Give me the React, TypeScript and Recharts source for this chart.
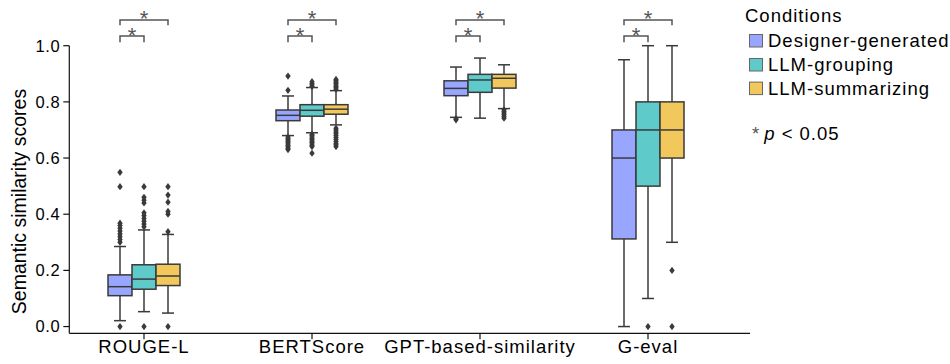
import React from 'react';
import { ComposedChart, Bar, XAxis, YAxis, Legend } from 'recharts';

if (typeof document !== 'undefined') {
  document.body.style.margin = '0';
}

const FONT = '"Liberation Sans", Arial, Helvetica, sans-serif';
const INK = '#3a3a3a';
const ANNOT = '#555555';

const categories = ['ROUGE-L', 'BERTScore', 'GPT-based-similarity', 'G-eval'];
const conditions = ['Designer-generated', 'LLM-grouping', 'LLM-summarizing'];
const conditionKeys = ['designer', 'grouping', 'summarizing'];
const conditionColors = ['#99a6ff', '#5fcaca', '#f2c75c'];
const yTicks = [0, 0.2, 0.4, 0.6, 0.8, 1.0];
const yDomain: [number, number] = [-0.024, 1.0];

// [lower whisker, Q1, median, Q3, upper whisker] per category
const designerStats = [
  [0.021, 0.110, 0.142, 0.184, 0.285],
  [0.680, 0.733, 0.752, 0.771, 0.821],
  [0.745, 0.822, 0.848, 0.875, 0.924],
  [0.0, 0.312, 0.6, 0.7, 0.95],
];
const groupingStats = [
  [0.053, 0.133, 0.169, 0.220, 0.344],
  [0.690, 0.749, 0.770, 0.790, 0.851],
  [0.742, 0.834, 0.878, 0.898, 0.956],
  [0.1, 0.5, 0.7, 0.8, 1.0],
];
const summarizingStats = [
  [0.048, 0.146, 0.180, 0.222, 0.328],
  [0.718, 0.756, 0.774, 0.790, 0.840],
  [0.776, 0.849, 0.884, 0.898, 0.932],
  [0.3, 0.6, 0.7, 0.8, 1.0],
];

const designerOutliers = [
  [0, 0.30, 0.31, 0.32, 0.33, 0.34, 0.35, 0.36, 0.368, 0.498, 0.549],
  [0.63, 0.635, 0.64, 0.645, 0.65, 0.655, 0.66, 0.665, 0.67, 0.675, 0.841, 0.892],
  [0.736, 0.74],
  [],
];
const groupingOutliers = [
  [0, 0.355, 0.365, 0.375, 0.385, 0.395, 0.405, 0.44, 0.45, 0.46, 0.498],
  [0.617, 0.641, 0.645, 0.65, 0.655, 0.66, 0.665, 0.67, 0.675, 0.68, 0.685, 0.855, 0.86, 0.865, 0.872],
  [],
  [0],
];
const summarizingOutliers = [
  [0, 0.338, 0.40, 0.41, 0.443, 0.468, 0.498],
  [0.641, 0.647, 0.653, 0.66, 0.667, 0.673, 0.68, 0.687, 0.693, 0.70, 0.706, 0.845, 0.85, 0.855, 0.86, 0.865, 0.87, 0.875, 0.88],
  [0.742, 0.748, 0.754, 0.76, 0.766, 0.772],
  [0, 0.2],
];

// significance: [designer vs grouping, designer vs summarizing]
const significant = [
  [true, true],
  [true, true],
  [true, true],
  [true, true],
];
// bracket levels in data units (above the top of the axis)
const nearBracket = { line: 1.0345, tip: 1.012, star: 1.056 };
const farBracket = { line: 1.0915, tip: 1.0726, star: 1.114 };

const statsByCondition = [designerStats, groupingStats, summarizingStats];
const outliersByCondition = [designerOutliers, groupingOutliers, summarizingOutliers];

const data = categories.map((category, i) => {
  const row: any = { category, idx: i };
  conditionKeys.forEach((k, c) => {
    const all = [...statsByCondition[c][i], ...outliersByCondition[c][i]];
    row[k] = [Math.min(...all), Math.max(...all)];
  });
  return row;
});

const STAR_FS = 22;
const Star = ({ x, y }: { x: number; y: number }) => (
  <text x={x} y={y + 0.575 * STAR_FS} textAnchor="middle" fontSize={STAR_FS} fontFamily={FONT} fill={ANNOT}>
    *
  </text>
);

const makeBoxShape = (c: number) => (props: any) => {
  const { x, y, width, height, payload, fill } = props;
  if (!payload || height == null) return <g />;
  const i = payload.idx;
  const [lo, hi] = payload[conditionKeys[c]];
  const py = (v: number) => y + ((hi - v) / (hi - lo)) * height;
  const [wl, q1, med, q3, wh] = statsByCondition[c][i];
  const cx = x + width / 2;
  const cap = width / 4;
  const outs = outliersByCondition[c][i];
  const sw = 1.5;
  const parts: any[] = [];
  parts.push(<line key="wu" x1={cx} x2={cx} y1={py(q3)} y2={py(wh)} stroke={INK} strokeWidth={sw} />);
  parts.push(<line key="wl" x1={cx} x2={cx} y1={py(q1)} y2={py(wl)} stroke={INK} strokeWidth={sw} />);
  parts.push(<line key="cu" x1={cx - cap} x2={cx + cap} y1={py(wh)} y2={py(wh)} stroke={INK} strokeWidth={sw} />);
  parts.push(<line key="cl" x1={cx - cap} x2={cx + cap} y1={py(wl)} y2={py(wl)} stroke={INK} strokeWidth={sw} />);
  parts.push(
    <rect key="box" x={x} y={py(q3)} width={width} height={py(q1) - py(q3)} fill={fill} stroke={INK} strokeWidth={sw} />
  );
  parts.push(<line key="med" x1={x} x2={x + width} y1={py(med)} y2={py(med)} stroke={INK} strokeWidth={sw} />);
  outs.forEach((v, k) => {
    const oy = py(v);
    parts.push(
      <path key={'o' + k} d={`M${cx},${oy - 3.6} L${cx + 2.7},${oy} L${cx},${oy + 3.6} L${cx - 2.7},${oy} Z`} fill={INK} />
    );
  });
  if (c === 0) {
    const x1 = cx;
    const x2 = cx + width;
    const x3 = cx + 2 * width;
    const [sg, ss] = significant[i];
    if (sg) {
      const ly = py(nearBracket.line);
      const ty = py(nearBracket.tip);
      parts.push(
        <path key="bn" d={`M${x1},${ty} L${x1},${ly} L${x2},${ly} L${x2},${ty}`} fill="none" stroke={ANNOT} strokeWidth={1.5} />
      );
      parts.push(<Star key="sn" x={(x1 + x2) / 2} y={py(nearBracket.star)} />);
    }
    if (ss) {
      const ly = py(farBracket.line);
      const ty = py(farBracket.tip);
      parts.push(
        <path key="bf" d={`M${x1},${ty} L${x1},${ly} L${x3},${ly} L${x3},${ty}`} fill="none" stroke={ANNOT} strokeWidth={1.5} />
      );
      parts.push(<Star key="sf" x={(x1 + x3) / 2} y={py(farBracket.star)} />);
    }
  }
  return <g>{parts}</g>;
};

const renderLegend = (props: any) => {
  const payload = props.payload || [];
  const rowBase = [47, 71, 94.6];
  return (
    <svg width={220} height={160} style={{ display: 'block' }}>
      <text x={15} y={21.7} fontSize={18.5} fontFamily={FONT} fill="#000" letterSpacing={1}>
        Conditions
      </text>
      {payload.map((entry: any, k: number) => (
        <g key={k}>
          <rect x={19.5} y={rowBase[k] - 12.5} width={13} height={12.5} fill={entry.color} stroke="#666" strokeWidth={1} />
          <text x={38} y={rowBase[k]} fontSize={18.5} fontFamily={FONT} fill="#000" letterSpacing={1}>
            {entry.value}
          </text>
        </g>
      ))}
      <text x={22} y={140} fontSize={18.5} fontFamily={FONT} fill="#000" letterSpacing={1}>
        <tspan fill="#555">*</tspan>
        <tspan dx={4} fontStyle="italic">p</tspan>
        <tspan> &lt; 0.05</tspan>
      </text>
    </svg>
  );
};

const YLabel = (props: any) => {
  const vb = props.viewBox || { x: 0, y: 45.7, width: 69.3, height: 287.6 };
  const cx = 26;
  const cy = vb.y + vb.height / 2 + 12;
  return (
    <text
      x={cx}
      y={cy}
      transform={`rotate(-90, ${cx}, ${cy})`}
      textAnchor="middle"
      fontSize={19.5}
      fontFamily={FONT}
      fill="#000"
    >
      Semantic similarity scores
    </text>
  );
};

export default function App() {
  return (
    <div style={{ width: 950, height: 364 }}>
      <ComposedChart
        width={950}
        height={364}
        data={data}
        margin={{ top: 45.7, right: 200, bottom: 0, left: 0 }}
        barGap={0}
      >
        <XAxis
          dataKey="category"
          type="category"
          interval={0}
          height={30.7}
          padding={{ left: -9.3, right: 18 }}
          tickSize={6}
          tickMargin={1}
          axisLine={{ stroke: '#111', strokeWidth: 1.2 }}
          tickLine={{ stroke: '#111', strokeWidth: 1.2 }}
          tick={{ fontSize: 18.5, fontFamily: FONT, fill: '#000', letterSpacing: 1 } as any}
        />
        <YAxis
          type="number"
          domain={yDomain}
          ticks={yTicks}
          interval={0}
          width={69.3}
          tickSize={6}
          tickMargin={3}
          tickFormatter={(v: number) => v.toFixed(1)}
          axisLine={{ stroke: '#111', strokeWidth: 1.2 }}
          tickLine={{ stroke: '#111', strokeWidth: 1.2 }}
          tick={{ fontSize: 16.5, fontFamily: FONT, fill: '#000', letterSpacing: 0.6 } as any}
          label={<YLabel />}
        />
        {conditionKeys.map((k, c) => (
          <Bar
            key={k}
            dataKey={k}
            name={conditions[c]}
            fill={conditionColors[c]}
            barSize={24}
            isAnimationActive={false}
            shape={makeBoxShape(c)}
          />
        ))}
        <Legend
          layout="vertical"
          align="center"
          verticalAlign="middle"
          wrapperStyle={{ top: 0, left: 730, width: 220, height: 160 }}
          content={renderLegend}
        />
      </ComposedChart>
    </div>
  );
}
